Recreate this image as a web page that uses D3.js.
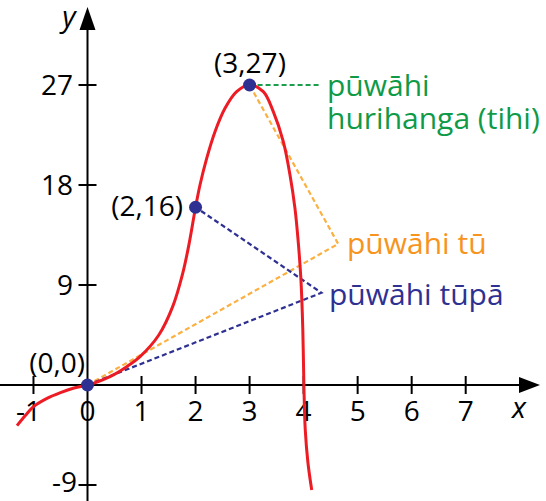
<!DOCTYPE html>
<html><head><meta charset="utf-8">
<script src="https://cdn.jsdelivr.net/npm/d3@7"></script>
<style>body{margin:0;background:#fff}svg{display:block}text{font-family:"Open Sans",sans-serif}</style>
</head><body>
<svg id="c" width="546" height="501"></svg>
<script>
// data
const xTicks = [-1, 0, 1, 2, 3, 4, 5, 6, 7];
const yTicks = [27, 18, 9, -9];
const curveX = [-1.305,-1.15,-1.0,-0.75,-0.5,-0.25,0,0.107,0.416,0.726,0.972,1.32,1.58,1.76,1.88,2,2.082,2.206,2.36,2.545,2.76,3,3.254,3.439,3.624,3.748,3.84,3.9,3.95,3.985,4.005,4.03,4.08,4.15];
const curveY = [-3.66,-2.75,-1.95,-1.2,-0.68,-0.27,0,0.15,0.75,1.65,2.55,4.5,7.1,10.0,12.7,16,18.0,20.4,22.8,24.9,26.4,27,26.4,24.6,21.9,18.9,15.9,12.9,9.5,5.0,0,-4.0,-7.0,-9.45];
const pointX = [0, 2, 3];
const pointY = [0, 16, 27];
const pointLabels = ["(0,0)", "(2,16)", "(3,27)"];
const calloutNames = ["pūwāhi", "hurihanga (tihi)", "pūwāhi tū", "pūwāhi tūpā"];
// callout bend points (data units)
const orangeX = [0, 4.64, 3]; const orangeY = [0, 12.7, 27];
const blueX = [0, 4.33, 2];  const blueY = [0, 8.3, 16];
const greenX = [3, 4.3];     const greenY = [27, 27];

const svg = d3.select("#c");
const x = d3.scaleLinear().domain([0, 7]).range([87.5, 465.7]);
const y = d3.scaleLinear().domain([0, 27]).range([385, 85]);

// axes
svg.append("line").attr("x1", 0).attr("x2", 522).attr("y1", y(0)).attr("y2", y(0)).attr("stroke", "#000").attr("stroke-width", 2);
svg.append("path").attr("d", `M540,${y(0)} L519,${y(0)-8} L519,${y(0)+8} Z`).attr("fill", "#000");
svg.append("line").attr("x1", x(0)).attr("x2", x(0)).attr("y1", 27).attr("y2", 501).attr("stroke", "#000").attr("stroke-width", 2);
svg.append("path").attr("d", `M${x(0)},7 L${x(0)-8},30 L${x(0)+8},30 Z`).attr("fill", "#000");

const fs = 28;
xTicks.forEach(t => {
  if (t !== 0) svg.append("line").attr("x1", x(t)).attr("x2", x(t)).attr("y1", y(0)-9).attr("y2", y(0)+9).attr("stroke", "#000").attr("stroke-width", 2);
  svg.append("text").attr("x", x(t) - (t < 0 ? 5 : 0)).attr("y", 421).attr("text-anchor", "middle").attr("font-size", fs).text(t < 0 ? "-" + Math.abs(t) : t);
});
yTicks.forEach(t => {
  svg.append("line").attr("x1", x(0)-9).attr("x2", x(0)+9).attr("y1", y(t)).attr("y2", y(t)).attr("stroke", "#000").attr("stroke-width", 2);
  svg.append("text").attr("x", t < 0 ? 77 : 73).attr("y", Math.min(y(t) + 10, 492)).attr("text-anchor", "end").attr("font-size", fs).text(t < 0 ? "-" + Math.abs(t) : t);
});
svg.append("text").attr("x", 69).attr("y", 27).attr("text-anchor", "middle").attr("font-size", 29).attr("font-style", "italic").text("y");
svg.append("text").attr("x", 519).attr("y", 418).attr("text-anchor", "middle").attr("font-size", 29).attr("font-style", "italic").text("x");

// dashed callouts
const line = d3.line().x(d => x(d[0])).y(d => y(d[1]));
function dashed(xs, ys, color) {
  svg.append("path").attr("d", line(xs.map((v, i) => [v, ys[i]]))).attr("fill", "none")
    .attr("stroke", color).attr("stroke-width", 2.2).attr("stroke-dasharray", "5,3");
}
dashed(orangeX, orangeY, "#fbb040");
dashed(blueX, blueY, "#2e3192");
dashed(greenX, greenY, "#1a9e4b");

// curve
const curve = d3.line().x(d => x(d[0])).y(d => y(d[1])).curve(d3.curveCatmullRom.alpha(0.5));
svg.append("path").attr("d", curve(curveX.map((v, i) => [v, curveY[i]]))).attr("fill", "none")
  .attr("stroke", "#ed1c24").attr("stroke-width", 3);

// points
pointX.forEach((v, i) => {
  svg.append("circle").attr("cx", x(v)).attr("cy", y(pointY[i])).attr("r", 6.5).attr("fill", "#2e3192");
});
svg.append("text").attr("x", 85).attr("y", 373).attr("text-anchor", "end").attr("font-size", fs).text(pointLabels[0]);
svg.append("text").attr("x", 183).attr("y", 216).attr("text-anchor", "end").attr("font-size", fs).text(pointLabels[1]);
svg.append("text").attr("x", 250).attr("y", 73).attr("text-anchor", "middle").attr("font-size", fs).text(pointLabels[2]);

// callout labels
const cfs = 30;
svg.append("text").attr("x", 327).attr("y", 96).attr("font-size", cfs).attr("fill", "#0f9a48").text(calloutNames[0]);
svg.append("text").attr("x", 327).attr("y", 129).attr("font-size", cfs).attr("fill", "#0f9a48").text(calloutNames[1]);
svg.append("text").attr("x", 347).attr("y", 254).attr("font-size", cfs).attr("fill", "#f7941d").text(calloutNames[2]);
svg.append("text").attr("x", 329).attr("y", 305).attr("font-size", cfs).attr("fill", "#2e3192").text(calloutNames[3]);
</script>
</body></html>
